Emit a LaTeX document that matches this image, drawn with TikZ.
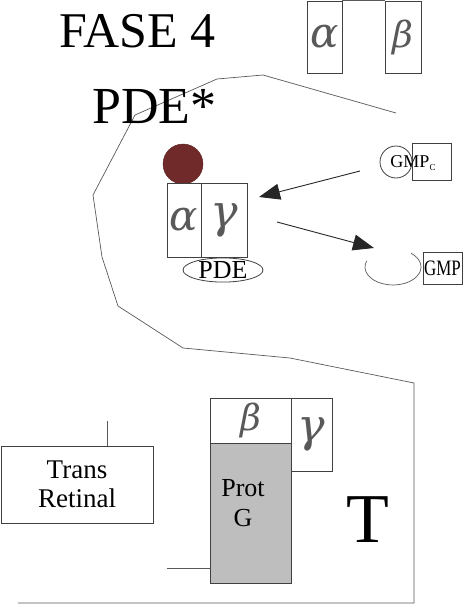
\documentclass[tikz,border=0pt]{standalone}
\usepackage{fontspec}
\setmainfont{Liberation Serif}
\newfontfamily\griegafont{DejaVu Serif}
\usetikzlibrary{arrows.meta,shapes.geometric}
\definecolor{rojoosc}{RGB}{112,42,42}
\definecolor{grisprot}{RGB}{190,190,190}
\newcommand{\fs}[1]{\fontsize{#1}{#1}\selectfont}

\begin{document}
\begin{tikzpicture}[x=1pt,y=-1pt,
	caja/.style={draw=black!75,line width=0.8pt,fill=white,inner sep=0pt},
	linea/.style={draw=black!65,line width=0.7pt},
	flecha/.style={draw=black!85,line width=0.9pt,-{Triangle[length=21pt,width=16pt]}},
	griega/.style={text=black!65}]
	\useasboundingbox (0,0) rectangle (463,605);
	% membrana
	\draw[linea] (396,113) -- (263,75) -- (217,79) -- (135,115) -- (93,195) -- (102,257)
		-- (118,306) -- (183,348) -- (290,358) -- (414,383) -- (414,603) -- (18,603);
	% titulos
	\node (fase) at (59,47) [anchor=base west,inner sep=0pt,font=\fs{50}] {FASE 4};
	\node (pdeast) at (92,123) [anchor=base west,inner sep=0pt,font=\fs{52}] {PDE*};
	% alfa y beta arriba
	\node (ta) at (324.5,37) [caja,griega,minimum width=35,minimum height=72,font=\griegafont\fs{42}\itshape] {α};
	\node (tb) at (403,37) [caja,griega,minimum width=36,minimum height=72,font=\griegafont\fs{36}\itshape] {β};
	\draw[linea] (ta.north east) -- (tb.north west);
	% PDE activada
	\node (bola) at (183,164) [circle,fill=rojoosc,draw=rojoosc!80!black,minimum size=40,inner sep=0pt] {};
	\node (pa) at (184,220) [caja,griega,minimum width=34,minimum height=74,font=\griegafont\fs{42}\itshape] {α};
	\node (pg) at (224,220) [caja,griega,minimum width=46,minimum height=74,font=\griegafont\fs{46}\itshape] {γ};
	\node (pde) at (223,270) [draw=black!75,line width=0.8pt,ellipse,minimum width=80,minimum height=24,inner sep=0pt,font=\fs{26}] {PDE};
	% GMPc
	\node (cgmp) at (396,162) [circle,draw=black!75,line width=0.8pt,minimum size=32,inner sep=0pt] {};
	\node (bgmp) at (431.5,161.5) [caja,minimum width=39,minimum height=37] {};
	\node (tgmpc) at (413,163) [font=\fs{18}] {GMP\raisebox{-3pt}{\fs{9}C}};
	% GMP
	\draw[linea] (393,267) +(-160:28 and 18) arc[start angle=-160,end angle=-410,x radius=28,y radius=18];
	\node (gmp) at (442.5,268) [caja,minimum width=39,minimum height=32,font=\fs{22}] {\scalebox{0.77}[1]{GMP}};
	% flechas
	\coordinate (f1a) at (360,171);
	\coordinate (f1b) at (259,197);
	\coordinate (f2a) at (277,222);
	\coordinate (f2b) at (374,248);
	\draw[flecha] (f1a) -- (f1b);
	\draw[flecha] (f2a) -- (f2b);
	% parte de abajo
	\node (trans) at (77,484.5) [caja,minimum width=152,minimum height=77,align=center,font=\fontsize{27}{29}\selectfont] {Trans\\Retinal};
	\coordinate (tr0) at (107,421);
	\draw[linea] (tr0) -- (tr0 |- trans.north);
	\node (protg) at (250.5,513) [caja,fill=grisprot,minimum width=81,minimum height=140] {};
	\node (protlbl) at (243,503) [align=center,font=\fontsize{26}{30}\selectfont] {Prot\\G};
	\node (gb) at (250.5,420.5) [caja,griega,minimum width=81,minimum height=45,font=\griegafont\fs{36}\itshape] {β};
	\node (gg) at (311.5,434.5) [caja,griega,minimum width=41,minimum height=73,font=\griegafont\fs{46}\itshape] {γ};
	\coordinate (pg0) at (167,568);
	\draw[linea] (pg0) -- (pg0 -| protg.west);
	\node (tee) at (368,520) [font=\fs{70}] {T};
\end{tikzpicture}
\end{document}
